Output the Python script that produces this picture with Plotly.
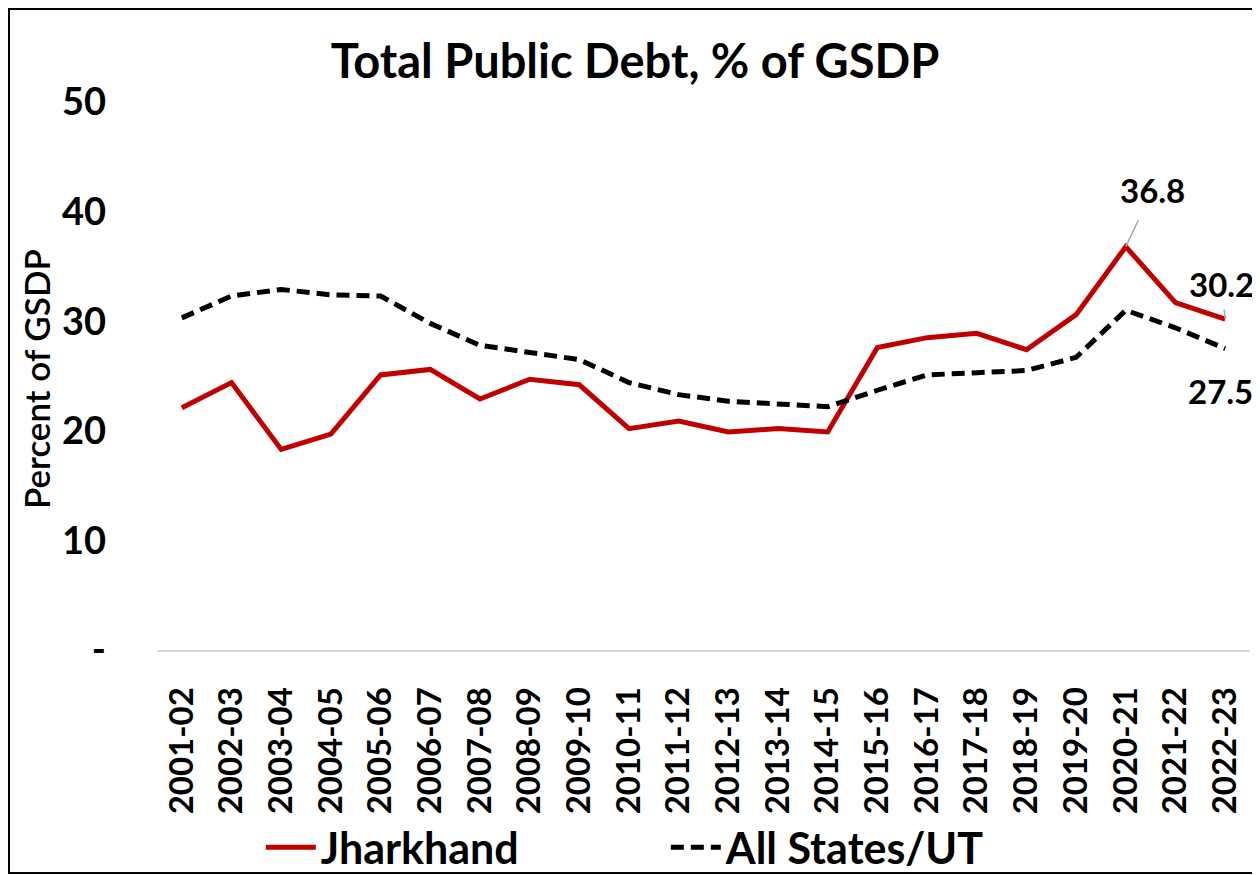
import plotly.graph_objects as go

years = ["2001-02", "2002-03", "2003-04", "2004-05", "2005-06", "2006-07", "2007-08",
         "2008-09", "2009-10", "2010-11", "2011-12", "2012-13", "2013-14", "2014-15",
         "2015-16", "2016-17", "2017-18", "2018-19", "2019-20", "2020-21", "2021-22", "2022-23"]
jharkhand = [22.1, 24.4, 18.3, 19.7, 25.1, 25.6, 22.9, 24.7, 24.2, 20.2, 20.9, 19.9, 20.2, 19.9,
             27.6, 28.5, 28.9, 27.4, 30.6, 36.8, 31.7, 30.2]
all_states = [30.3, 32.3, 32.9, 32.4, 32.3, 29.8, 27.8, 27.2, 26.5, 24.4, 23.3, 22.7, 22.5, 22.2,
              23.7, 25.1, 25.3, 25.5, 26.7, 31.0, 29.4, 27.5]
y_ticks = [0, 10, 20, 30, 40, 50]
y_ticktext = ["-", "10", "20", "30", "40", "50"]

FONT = "Lato"

# figure is drawn inside the page's default 8px body margin
W, H = 1252, 867
L, R, T, B = 149, 10, 94, 225
pw, ph = W - L - R, H - T - B

fig = go.Figure()
fig.add_trace(go.Scatter(x=years, y=jharkhand, mode="lines", name="Jharkhand",
                         line=dict(color="#c00000", width=5)))
fig.add_trace(go.Scatter(x=years, y=all_states, mode="lines", name="All States/UT",
                         line=dict(color="#000000", width=5, dash="13px,7px")))

fig.update_layout(
    width=W, height=H,
    paper_bgcolor="white", plot_bgcolor="white",
    margin=dict(l=L, r=R, t=T, b=B, autoexpand=False),
    font=dict(family=FONT, color="black"),
    title=dict(text="<b>Total Public Debt, % of GSDP</b>", x=(635 - 8) / W, xref="container",
               xanchor="center", y=1 - 54 / H, yref="container", yanchor="middle",
               font=dict(family=FONT, size=47, color="black")),
    showlegend=True,
    legend=dict(orientation="h", x=0.095, xanchor="left", y=-0.36, yanchor="middle",
                font=dict(family=FONT, size=43, color="black", weight="bold"),
                itemwidth=50, entrywidth=340, bgcolor="rgba(0,0,0,0)"),
    xaxis=dict(type="category", range=[-0.5, len(years) - 0.5], tickangle=-90,
               showgrid=False, showline=True,
               linecolor="#d9d9d9", linewidth=2, ticks="", ticklabelstandoff=22,
               tickfont=dict(family=FONT, size=33, color="black", weight="bold")),
    yaxis=dict(range=[0, 50], tickvals=y_ticks, ticktext=y_ticktext, showgrid=False,
               showline=False, zeroline=False, ticks="", ticklabelstandoff=50,
               tickfont=dict(family=FONT, size=38, color="black", weight="bold")),
)

fig.add_annotation(x=(36 - 157) / pw, xref="paper", y=0.5 - 3 / ph, yref="paper",
                   text="Percent of GSDP", textangle=-90, showarrow=False,
                   xanchor="center", yanchor="middle",
                   font=dict(family=FONT, size=35, color="black", weight=600))

fig.add_annotation(x=years[19], y=jharkhand[19], text="<b>36.8</b>", showarrow=True,
                   ax=27, ay=-57, arrowhead=0, arrowwidth=1.5, arrowcolor="#a6a6a6",
                   startstandoff=10, font=dict(family=FONT, size=33, color="black"))
fig.add_annotation(x=years[21], y=jharkhand[21], text="<b>30.2</b>", showarrow=True,
                   ax=-4, ay=-35, arrowhead=0, arrowwidth=1.5, arrowcolor="#a6a6a6",
                   startstandoff=4, font=dict(family=FONT, size=33, color="black"))
fig.add_annotation(x=years[21], y=all_states[21], text="<b>27.5</b>", showarrow=False,
                   xshift=-5, yshift=-42, font=dict(family=FONT, size=33, color="black"))

# outer chart border
fig.add_shape(type="rect", xref="paper", yref="paper",
              x0=(1 - L) / pw, x1=(1248 - L) / pw,
              y0=(T + ph - 865) / ph, y1=(T + ph - 1) / ph,
              line=dict(color="black", width=2), fillcolor="rgba(0,0,0,0)")

fig.write_html("out.html")
